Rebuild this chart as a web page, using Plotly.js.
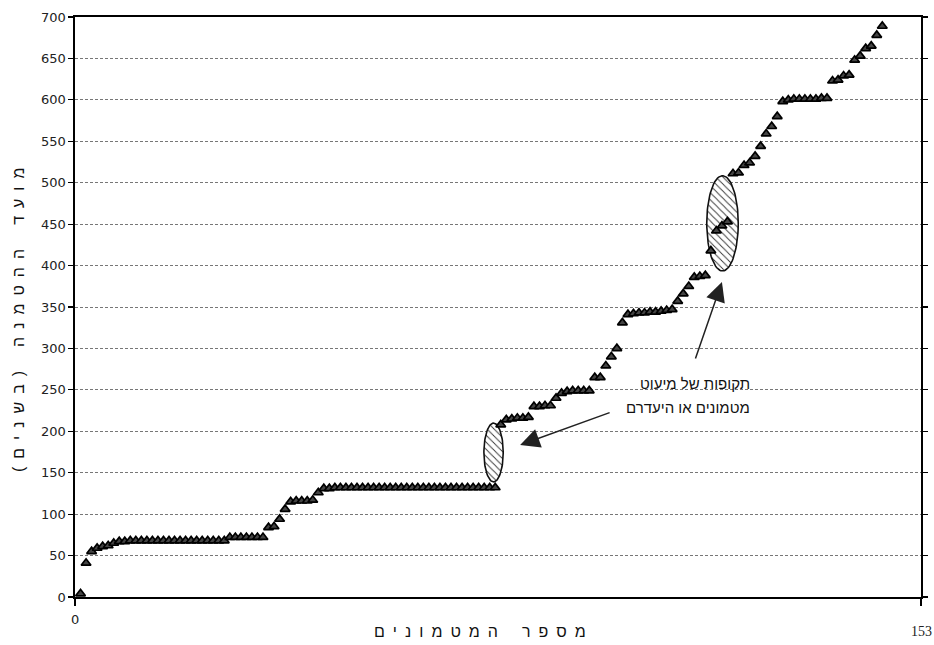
<!DOCTYPE html>
<html>
<head>
<meta charset="utf-8">
<script src="https://cdn.plot.ly/plotly-3.0.1.min.js"></script>
<style>html,body{margin:0;padding:0;background:#fff;}#chart{width:934px;height:645px;}</style>
</head>
<body>
<div id="chart"></div>
<script>
// Burial date (years) for each hoard, ordered by hoard number
const burialYears = [
  4, 41, 55, 59, 61, 62, 65,
  67, 67, 68, 68, 68, 68, 68, 68, 68, 68, 68, 68, 68, 68, 68, 68, 68, 68, 68, 68,
  72, 72, 72, 72, 72, 72, 72,
  84, 85, 94, 106,
  115, 116, 116, 116, 117,
  126,
  131, 131, 132, 132, 132, 132, 132, 132, 132, 132, 132, 132, 132, 132, 132, 132,
  132, 132, 132, 132, 132, 132, 132, 132, 132, 132, 132, 132, 132, 132, 132, 132,
  208,
  214, 215, 216, 216, 217,
  230, 230, 231, 231,
  240,
  246, 248, 249, 249, 249, 249,
  265, 265, 279, 290, 300, 331,
  341, 342, 343, 343, 344, 344, 345, 346, 347,
  357, 366, 375,
  386, 387, 388,
  418, 442, 448, 453,
  511, 512, 521, 524, 532, 544, 559, 568, 580,
  598, 600, 601, 601, 601, 601, 601, 602, 602,
  623, 624, 629, 630,
  648, 653, 662, 665, 678, 689
];
const hoardNumbers = burialYears.map((_, k) => k + 1);

const xTickVals = [0, 153];
const xTickText = ['0', '153'];
const yTickVals = [0, 50, 100, 150, 200, 250, 300, 350, 400, 450, 500, 550, 600, 650, 700];

// spaced-out axis titles (letters separated by en spaces, as in the original)
const xTitleWords = ['מספר', 'המטמונים'];
const yTitleWords = ['מועד', 'ההטמנה', '(בשנים)'];
const noteLine1 = 'תקופות של מיעוט';
const noteLine2 = 'מטמונים או היעדרם';

const SP = '\u2002';
const spaced = words => words.map(w => Array.from(w).join(SP)).join(SP + SP + SP);

// highlighted gaps (ellipses)
const gapCenters = [[75.7, 174.4], [117.1, 451]];
const gapRadii = [[1.75, 35.5], [2.85, 57.5]];

function ellipseTrace(c, r) {
  const xs = [], ys = [];
  for (let k = 0; k <= 90; k++) {
    const t = 2 * Math.PI * k / 90;
    xs.push(c[0] + r[0] * Math.cos(t));
    ys.push(c[1] + r[1] * Math.sin(t));
  }
  return {
    x: xs, y: ys, type: 'scatter', mode: 'lines', fill: 'toself',
    fillcolor: 'white',
    fillpattern: {shape: '\\', fgcolor: '#333', bgcolor: 'white', size: 5, solidity: 0.18},
    line: {color: '#111', width: 1.6},
    hoverinfo: 'skip', showlegend: false
  };
}

const traces = [
  ellipseTrace(gapCenters[0], gapRadii[0]),
  ellipseTrace(gapCenters[1], gapRadii[1]),
  {
    x: hoardNumbers, y: burialYears, type: 'scatter', mode: 'markers',
    marker: {symbol: 'triangle-up', size: 8.5, color: '#444', line: {color: '#000', width: 1.7}},
    showlegend: false
  }
];

const tickFont = {family: 'DejaVu Sans, sans-serif', size: 13, color: '#222'};
const hebFont = {family: 'Liberation Sans, DejaVu Sans, sans-serif', size: 15, color: '#111'};
const titleFont = {family: 'Liberation Sans, DejaVu Sans, sans-serif', size: 16, color: '#111'};

const layout = {
  width: 934, height: 645,
  margin: {l: 75, r: 13, t: 17, b: 48, pad: 0},
  paper_bgcolor: 'white', plot_bgcolor: 'white',
  showlegend: false,
  xaxis: {
    range: [0, 153], tickvals: xTickVals, ticktext: xTickText, showticklabels: false,
    ticks: 'outside', ticklen: 7, tickwidth: 1.2, tickcolor: '#000',
    showline: true, linecolor: '#000', linewidth: 1.6, mirror: true,
    showgrid: false, zeroline: false
  },
  yaxis: {
    range: [0, 700], tickvals: yTickVals,
    ticks: 'outside', ticklen: 5, tickwidth: 1.2, tickcolor: '#000',
    tickfont: tickFont,
    showline: true, linecolor: '#000', linewidth: 1.6, mirror: 'allticks',
    showgrid: true, gridcolor: '#777', gridwidth: 1, griddash: '3px,2px',
    zeroline: false
  },
  annotations: [
    {xref: 'paper', yref: 'paper', x: -0.067, y: 0.478, text: spaced(yTitleWords), textangle: -90,
     showarrow: false, xanchor: 'center', yanchor: 'middle', font: titleFont},
    {xref: 'x', yref: 'paper', x: 73.2, y: -0.06, text: spaced(xTitleWords),
     showarrow: false, xanchor: 'center', yanchor: 'middle', font: titleFont},
    {xref: 'x', yref: 'paper', x: xTickVals[0], y: -0.038, text: xTickText[0],
     showarrow: false, xanchor: 'center', yanchor: 'middle', font: tickFont},
    {xref: 'x', yref: 'paper', x: xTickVals[1], y: -0.059, text: xTickText[1],
     showarrow: false, xanchor: 'center', yanchor: 'middle',
     font: {family: 'Liberation Serif, serif', size: 14, color: '#222'}},
    {xref: 'x', yref: 'y', x: 122.4, y: 258, text: noteLine1, showarrow: false,
     xanchor: 'right', yanchor: 'middle', align: 'right', font: hebFont},
    {xref: 'x', yref: 'y', x: 122.4, y: 229, text: noteLine2, showarrow: false,
     xanchor: 'right', yanchor: 'middle', align: 'right', font: hebFont},
    {xref: 'x', yref: 'y', x: 80.5, y: 183.4, text: '', showarrow: true,
     ax: 91, ay: -33, arrowhead: 2, arrowsize: 2.6, arrowwidth: 1.5, arrowcolor: '#222'},
    {xref: 'x', yref: 'y', x: 117.0, y: 380.2, text: '', showarrow: true,
     ax: -27, ay: 78, arrowhead: 2, arrowsize: 2.6, arrowwidth: 1.5, arrowcolor: '#222'}
  ]
};

Plotly.newPlot('chart', traces, layout, {displayModeBar: false, staticPlot: true});
</script>
</body>
</html>
